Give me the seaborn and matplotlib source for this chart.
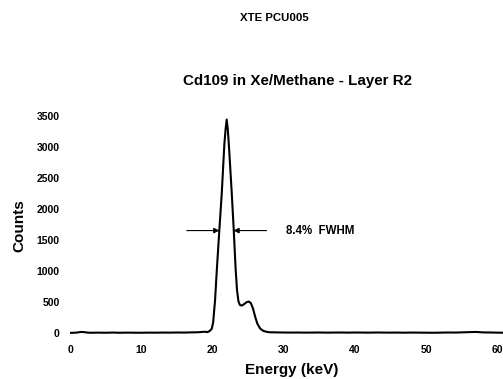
import numpy as np
import pandas as pd
import matplotlib
matplotlib.use("Agg")
import matplotlib.pyplot as plt
import seaborn as sns

# Spectrum (keV, counts)
energy = [0, 0.5, 1, 1.5, 2, 2.5, 3, 4, 5, 6, 7, 8, 9, 10, 11, 12, 13, 14, 15,
          16, 17, 18, 18.5, 19, 19.3, 19.6, 19.9, 20.1, 20.37, 20.6, 20.97,
          21.31, 21.67, 21.85, 22.0, 22.15, 22.33, 22.71, 22.99, 23.25, 23.45,
          23.65, 23.85, 24.1, 24.4, 24.8, 25.1, 25.4, 25.7, 26.0, 26.3, 26.7,
          27.1, 27.5, 28, 29, 30, 31, 32, 33, 34, 35, 36, 37, 38, 39, 40, 41,
          42, 43, 44, 45, 46, 47, 48, 49, 50, 51, 52, 53, 54, 55, 56, 57, 58,
          59, 60, 61]
counts = [10, 12, 15, 25, 22, 14, 12, 14, 12, 15, 12, 14, 13, 12, 14, 13, 15,
          14, 16, 15, 18, 20, 25, 28, 22, 40, 75, 180, 540, 1000, 1670,
          2265, 3050, 3300, 3450, 3300, 3000, 2265, 1670, 1050, 700,
          520, 460, 450, 470, 505, 515, 490, 400, 270, 160, 80,
          45, 30, 20, 18, 16, 15, 16, 14, 15, 16, 14, 15, 16, 14, 16, 15,
          14, 16, 15, 14, 15, 13, 15, 14, 13, 12, 14, 16, 15, 18, 22, 25, 18,
          16, 14, 12]

x_ticks = [0, 10, 20, 30, 40, 50, 60]
y_ticks = [0, 500, 1000, 1500, 2000, 2500, 3000, 3500]

fwhm_level = 1660
fwhm_left = 20.98
fwhm_right = 22.95

df = pd.DataFrame({"energy": energy, "counts": counts})

sns.set_style("white")
plt.rcParams["font.family"] = ["Liberation Sans", "DejaVu Sans"]
plt.rcParams["text.color"] = "black"
plt.rcParams["xtick.color"] = "black"
plt.rcParams["ytick.color"] = "black"

fig = plt.figure(figsize=(5.03, 3.79), dpi=100)
ax = fig.add_axes([0.1392, 0.1037, 0.8608, 0.6053])

sns.lineplot(data=df, x="energy", y="counts", color="black", linewidth=1.5, ax=ax)

ax.set_xlim(0, 60.8)
ax.set_ylim(-100, 3600)
ax.set_xticks(x_ticks)
ax.set_yticks(y_ticks)
ax.set_xticklabels([str(t) for t in x_ticks], fontsize=7.5, fontweight="bold")
ax.set_yticklabels([str(t) for t in y_ticks], fontsize=7.5, fontweight="bold")
ax.tick_params(axis="both", length=0, pad=4)
ax.tick_params(axis="y", pad=7.5)
ax.set_xlabel("")
ax.set_ylabel("")
sns.despine(ax=ax, left=True, bottom=True)

# FWHM arrows
ax.annotate("", xy=(fwhm_left, fwhm_level), xytext=(16.4, fwhm_level),
            arrowprops=dict(arrowstyle="-|>", color="black", lw=0.8,
                            mutation_scale=8, shrinkA=0, shrinkB=0))
ax.annotate("", xy=(fwhm_right, fwhm_level), xytext=(27.6, fwhm_level),
            arrowprops=dict(arrowstyle="-|>", color="black", lw=0.8,
                            mutation_scale=8, shrinkA=0, shrinkB=0))
ax.text(30.3, fwhm_level, "8.4%  FWHM", fontsize=8.3, fontweight="bold",
        va="center", ha="left")

fig.text(0.5447, 0.9525, "XTE PCU005", fontsize=8.2, fontweight="bold",
         ha="center", va="center")
fig.text(0.5905, 0.786, "Cd109 in Xe/Methane - Layer R2", fontsize=10.9,
         fontweight="bold", ha="center", va="center")
fig.text(0.0378, 0.406, "Counts", fontsize=11, fontweight="bold",
         rotation=90, ha="center", va="center")
fig.text(0.5805, 0.024, "Energy (keV)", fontsize=11, fontweight="bold",
         ha="center", va="center")

fig.savefig("out.png", dpi=100)
